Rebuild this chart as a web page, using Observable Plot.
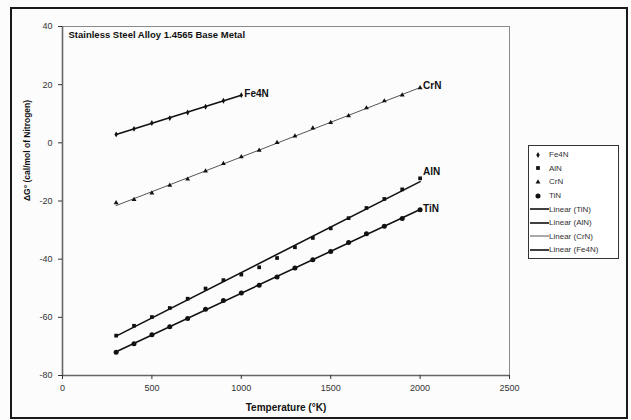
<!DOCTYPE html>
<html>
<head>
<meta charset="utf-8">
<script src="https://cdn.jsdelivr.net/npm/d3@7"></script>
<script src="https://cdn.jsdelivr.net/npm/@observablehq/plot@0.6"></script>
<style>
  html, body { margin: 0; padding: 0; background: #ffffff; }
  #wrap { position: relative; width: 631px; height: 420px; overflow: hidden; font-family: "Liberation Sans", Arial, sans-serif; background: #fcfcfc; }
  #frame { position: absolute; left: 10px; top: 7px; width: 614px; height: 408px; border: 2px solid #1a1a1a; pointer-events: none; }
  #legend { position: absolute; left: 528px; top: 145px; width: 89px; border: 1px solid #333; background: #fff; padding: 2px 0 1px 0; }
  .lg { display: flex; align-items: center; height: 13.6px; font-size: 8px; color: #333; }
  .lg svg { flex: none; }
  #chart svg { position: absolute; left: 0; top: 0; }
</style>
</head>
<body>
<div id="wrap">
  <div id="chart"></div>
  <div id="legend"></div>
  <div id="frame"></div>
</div>
<script>
// ---- data ----
const temps = [300,400,500,600,700,800,900,1000,1100,1200,1300,1400,1500,1600,1700,1800,1900,2000];
const fe4nTemps = [300,400,500,600,700,800,900,1000];
const fe4nValues = [2.9,4.8,6.8,8.5,10.4,12.4,14.5,16.4];
const crnValues = [-20.6,-19.5,-17.3,-14.6,-12.5,-9.7,-7.1,-4.8,-2.6,0.1,2.3,5.1,7.0,9.3,12.0,14.4,16.4,18.9];
const alnValues = [-66.3,-62.9,-59.9,-56.8,-53.6,-50.1,-47.2,-45.3,-42.8,-39.6,-35.9,-32.7,-29.4,-25.9,-22.4,-19.3,-16.0,-12.2];
const tinValues = [-72.0,-69.1,-66.0,-63.2,-60.4,-57.2,-54.2,-51.6,-49.0,-46.1,-43.0,-40.2,-37.4,-34.3,-31.3,-28.7,-26.0,-23.0];
const seriesNames = ["Fe4N","AlN","CrN","TiN"];
const trendOrder = ["TiN","AlN","CrN","Fe4N"];
const xTicks = [0,500,1000,1500,2000,2500];
const yTicks = [40,20,0,-20,-40,-60,-80];
const titleText = "Stainless Steel Alloy 1.4565 Base Metal";
const xLabel = "Temperature (°K)";
const yLabel = "ΔG° (cal/mol of Nitrogen)";

// ---- styles ----
const symbols = {Fe4N: "diamond", AlN: "square", CrN: "triangle", TiN: "circle"};
const sizes = {Fe4N: 1.8, AlN: 2.1, CrN: 1.8, TiN: 2.5};
const lineColor = {Fe4N: "#111", AlN: "#111", CrN: "#555", TiN: "#111"};
const lineWidth = {Fe4N: 1.6, AlN: 1.6, CrN: 1, TiN: 1.6};
const labelDy = {Fe4N: -1, AlN: -7, CrN: -2, TiN: -1};

const rows = [];
fe4nTemps.forEach((t, i) => rows.push({s: "Fe4N", T: t, G: fe4nValues[i]}));
temps.forEach((t, i) => rows.push({s: "CrN", T: t, G: crnValues[i]}));
temps.forEach((t, i) => rows.push({s: "AlN", T: t, G: alnValues[i]}));
temps.forEach((t, i) => rows.push({s: "TiN", T: t, G: tinValues[i]}));

const lastPoints = seriesNames.map(n => {
  const r = rows.filter(d => d.s === n);
  return r[r.length - 1];
});

const plain = d => String(d);
const marks = [
  Plot.frame({stroke: "#8a8a8a", strokeWidth: 1}),
  Plot.ruleX([0], {stroke: "#666", strokeWidth: 1.6}),
  Plot.ruleY([-80], {stroke: "#666", strokeWidth: 1.6}),
  Plot.axisX({ticks: xTicks, tickFormat: plain, tickSize: 4, tickPadding: 5, fontSize: 9, color: "#333", label: null}),
  Plot.axisY({ticks: yTicks, tickFormat: plain, tickSize: 4, tickPadding: 6, fontSize: 9, color: "#333", label: null}),
];
for (const n of trendOrder) {
  marks.push(Plot.linearRegressionY(rows.filter(d => d.s === n), {x: "T", y: "G", ci: 0, stroke: lineColor[n], strokeWidth: lineWidth[n]}));
}
for (const n of seriesNames) {
  marks.push(Plot.dot(rows.filter(d => d.s === n), {x: "T", y: "G", symbol: () => symbols[n], r: sizes[n], fill: "#111", stroke: "none"}));
  const lp = lastPoints.find(d => d.s === n);
  marks.push(Plot.text([lp], {x: "T", y: "G", text: "s", dx: 3, dy: labelDy[n], textAnchor: "start", fontWeight: "bold", fontSize: 10, fill: "#111"}));
}
marks.push(Plot.text([titleText], {frameAnchor: "top-left", dx: 6, dy: 5, fontWeight: "bold", fontSize: 9.5, fill: "#111"}));
marks.push(Plot.text([xLabel], {frameAnchor: "bottom", dy: 35, fontWeight: "bold", fontSize: 10, fill: "#111"}));
marks.push(Plot.text([yLabel], {frameAnchor: "left", dx: -35, rotate: -90, fontWeight: "bold", fontSize: 8.5, fill: "#111"}));

const chart = Plot.plot({
  width: 631, height: 420,
  marginLeft: 62, marginRight: 122, marginTop: 26, marginBottom: 45,
  style: {fontFamily: "'Liberation Sans', Arial, sans-serif", background: "transparent", overflow: "visible"},
  x: {domain: [0, 2500]},
  y: {domain: [-80, 40]},
  symbol: {type: "identity"},
  marks
});
document.getElementById("chart").appendChild(chart);

// ---- legend ----
const legend = d3.select("#legend");
for (const n of seriesNames) {
  const row = legend.append("div").attr("class", "lg");
  const svg = row.append("svg").attr("width", 20).attr("height", 10);
  const symType = {diamond: d3.symbolDiamond, square: d3.symbolSquare, triangle: d3.symbolTriangle, circle: d3.symbolCircle}[symbols[n]];
  svg.append("path").attr("transform", "translate(9,5)").attr("d", d3.symbol(symType, sizes[n] * sizes[n] * 3.2)()).attr("fill", "#111");
  row.append("span").text(n);
}
for (const n of trendOrder) {
  const row = legend.append("div").attr("class", "lg");
  const svg = row.append("svg").attr("width", 20).attr("height", 10);
  svg.append("line").attr("x1", 1).attr("x2", 20).attr("y1", 5).attr("y2", 5).attr("stroke", lineColor[n]).attr("stroke-width", lineWidth[n]);
  row.append("span").text("Linear (" + n + ")");
}
</script>
</body>
</html>
